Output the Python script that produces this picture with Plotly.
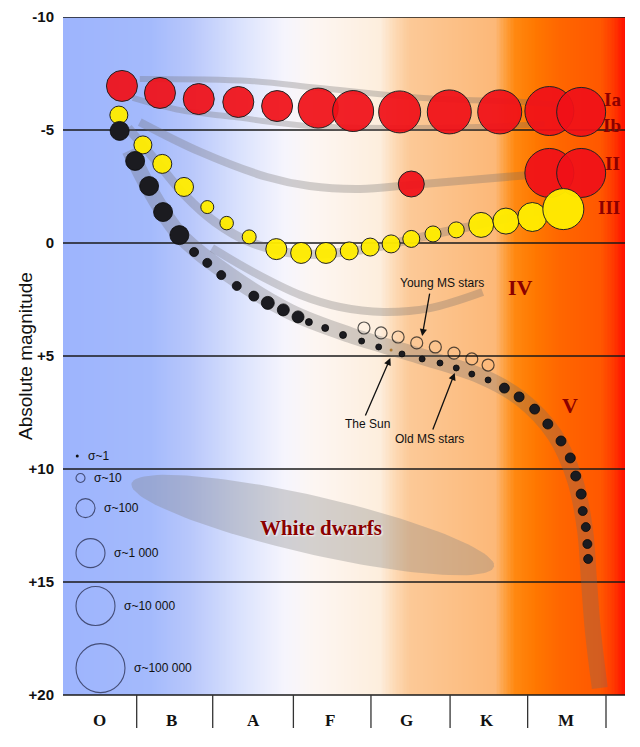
import numpy as np
import plotly.graph_objects as go

# x = spectral position (O0 = 0 ... M9 ~ 70, ten subclasses per class), y = absolute magnitude
classes = ["O", "B", "A", "F", "G", "K", "M"]
class_centers = [4.7, 14.0, 24.5, 34.4, 44.3, 54.7, 64.8]
class_edges = [9.5, 19.3, 29.7, 39.7, 49.9, 59.9, 70.0]
mag_ticks = [-10, -5, 0, 5, 10, 15, 20]
mag_labels = ["-10", "-5", "0", "+5", "+10", "+15", "+20"]

# star counts are given as log10(sigma), the legend scale
sg_x = [7.6, 12.5, 17.5, 22.6, 27.6, 32.9, 37.4, 43.4, 49.8, 56.3, 62.7, 66.8]
sg_mag = [-6.95, -6.64, -6.37, -6.24, -6.06, -5.97, -5.84, -5.80, -5.80, -5.80, -5.84, -5.80]
sg_sig = [3.2, 3.2, 3.2, 3.2, 3.2, 4.1, 4.2, 4.3, 4.5, 4.5, 5.0, 5.0]

bg_x = [44.9, 62.7, 66.8]
bg_mag = [-2.61, -3.10, -3.10]
bg_sig = [2.7, 5.0, 5.0]

gi_x = [7.2, 10.3, 12.8, 15.6, 18.6, 21.1, 24.0, 27.5, 30.7, 33.9, 36.9, 39.6, 42.3, 44.9,
        47.7, 50.7, 53.9, 57.1, 60.5, 64.5]
gi_mag = [-5.66, -4.34, -3.50, -2.48, -1.59, -0.88, -0.27, 0.27, 0.44, 0.44, 0.35, 0.18, 0.04,
          -0.18, -0.40, -0.58, -0.80, -0.97, -1.15, -1.50]
gi_sig = [1.9, 1.9, 2.0, 2.0, 1.4, 1.45, 1.5, 2.2, 2.2, 2.2, 1.9, 1.9, 1.9, 1.8, 1.7, 1.7,
          2.6, 2.7, 3.0, 4.2]

ms_x = [7.3, 9.3, 11.1, 12.9, 15.0, 16.9, 18.6, 20.4, 22.4, 24.6, 26.4, 28.4, 30.3, 31.7,
        33.8, 36.1, 38.5, 40.7, 43.7, 46.3, 48.6, 50.7, 52.7, 54.8, 56.9, 58.8, 60.8, 62.5,
        64.2, 65.4, 66.1, 66.8, 67.0, 67.4, 67.6, 67.7]
ms_mag = [-4.96, -3.63, -2.52, -1.37, -0.35, 0.40, 0.88, 1.42, 1.90, 2.35, 2.65, 2.96, 3.27,
          3.50, 3.76, 4.07, 4.34, 4.60, 4.91, 5.13, 5.31, 5.53, 5.80, 6.06, 6.42, 6.81, 7.35,
          8.01, 8.76, 9.51, 10.31, 11.11, 11.86, 12.57, 13.32, 13.98]
ms_sig = [2.0, 2.0, 2.0, 2.0, 2.0, 1.0, 1.0, 1.0, 1.0, 1.1, 1.4, 1.3, 1.3, 0.8, 0.8, 0.8,
          0.7, 0.7, 0.7, 0.7, 0.7, 0.7, 0.7, 0.7, 1.1, 1.1, 1.1, 1.1, 1.1, 1.1, 1.1, 1.1,
          1.0, 1.0, 1.0, 1.0]

young_x = [38.8, 41.0, 43.2, 45.6, 48.0, 50.4, 52.7, 54.8]
young_mag = [3.76, 3.98, 4.16, 4.42, 4.60, 4.87, 5.13, 5.40]
young_sig = [1.3] * 8

sun_x, sun_mag = 42.3, 4.73

# luminosity class tracks
bands = {
    "Ia": ([9.9, 24.1, 33.1, 46.4, 59.3, 64.1], [-7.26, -7.17, -6.86, -6.42, -6.24, -6.11]),
    "Ib": ([9.0, 15.1, 21.9, 31.8, 45.1, 53.4, 62.1], [-6.42, -5.88, -5.58, -5.18, -5.09, -5.13, -5.27]),
    "II": ([9.9, 17.7, 26.3, 31.8, 38.3, 44.9, 52.5, 60.2], [-5.35, -4.03, -2.92, -2.52, -2.39, -2.57, -2.79, -3.01]),
    "III": ([8.4, 11.9, 15.7, 19.6, 24.1, 30.6, 38.3, 47.3, 56.3, 64.1],
            [-5.09, -3.67, -2.12, -0.93, -0.04, 0.49, 0.31, -0.35, -1.02, -1.68]),
    "IV": ([19.2, 24.5, 30.6, 35.7, 41.3, 47.3, 54.1], [0.22, 1.28, 2.30, 2.83, 3.05, 2.88, 2.17]),
    "V": ([8.6, 11.2, 15.1, 21.5, 29.3, 37.0, 46.0, 53.8, 58.9, 63.4, 66.0, 67.3, 67.8, 68.3, 69.2],
          [-4.1, -2.35, -0.35, 1.42, 3.05, 4.07, 5.0, 5.88, 6.86, 8.50, 10.49, 12.70, 14.91, 17.12, 19.69]),
}
band_width = {"Ia": 6, "Ib": 6, "II": 8, "III": 9, "IV": 8, "V": 16}

class_labels = ["Ia", "Ib", "II", "III", "IV", "V"]
class_label_x = [70.8, 70.8, 70.9, 70.4, 59.0, 65.4]
class_label_mag = [-6.37, -5.18, -3.54, -1.55, 1.99, 7.17]
class_label_size = [19, 19, 19, 19, 22, 22]

legend_sig = [0, 1, 2, 3, 4, 5]
legend_text = ["σ~1", "σ~10", "σ~100", "σ~1 000", "σ~10 000", "σ~100 000"]
legend_mag = [9.42, 10.40, 11.73, 13.72, 16.06, 18.81]

wd_x, wd_mag = 32.2, 12.48

X_MAX = 72.45
Y_BOTTOM = 21.46
PX_X = 562 / X_MAX
PX_Y = 711 / (Y_BOTTOM + 10)


def sizes(sig):
    return [max(2.5, 10 * s - 1) for s in sig]


bg_scale = [
    [0.000, "#9db4fd"], [0.155, "#a4bafc"], [0.226, "#b8c7fb"], [0.315, "#dae2fd"],
    [0.395, "#f6f5fd"], [0.448, "#fdf6f2"], [0.564, "#fdeedd"], [0.591, "#fdd9b4"],
    [0.617, "#fcc997"], [0.769, "#fcb878"], [0.786, "#fda040"], [0.804, "#ff8810"],
    [0.840, "#ff7800"], [0.884, "#ff6600"], [0.956, "#ff5800"], [0.979, "#ff3a00"],
    [1.000, "#ff1000"],
]

fig = go.Figure()

grad_x = np.linspace(0, X_MAX, 401)
fig.add_trace(go.Heatmap(
    x=grad_x, y=[-10, 20], z=[(grad_x[:-1] + grad_x[1:]) / 2],
    colorscale=bg_scale, zmin=0, zmax=X_MAX, showscale=False, hoverinfo="skip",
))

# horizontal magnitude lines
hx, hy = [], []
for m in mag_ticks:
    hx += [0, X_MAX, None]
    hy += [m, m, None]
fig.add_trace(go.Scatter(x=hx, y=hy, mode="lines", line=dict(color="#1a1a1a", width=1.5),
                         hoverinfo="skip", showlegend=False))

for name, (bx, by) in bands.items():
    fig.add_trace(go.Scatter(
        x=bx, y=by, mode="lines", line=dict(color="rgba(110,105,105,0.30)", width=band_width[name],
                                            shape="spline", smoothing=1.0),
        hoverinfo="skip", showlegend=False,
    ))

# white dwarf region
t = np.linspace(0, 2 * np.pi, 120)
a, b, ang = 186, 29, np.radians(12.9)
ex = wd_x + (a * np.cos(t) * np.cos(ang) - b * np.sin(t) * np.sin(ang)) / PX_X
ey = wd_mag + (a * np.cos(t) * np.sin(ang) + b * np.sin(t) * np.cos(ang)) / PX_Y
fig.add_trace(go.Scatter(x=ex, y=ey, mode="lines", fill="toself",
                         fillcolor="rgba(128,128,128,0.32)", line=dict(width=0),
                         hoverinfo="skip", showlegend=False))

# legend of symbol sizes
leg_size = sizes(legend_sig)
leg_x = [(13 + s / 2) / PX_X for s in leg_size]
fig.add_trace(go.Scatter(
    x=leg_x[1:], y=legend_mag[1:], mode="markers",
    marker=dict(size=leg_size[1:], color="rgba(0,0,0,0)", line=dict(color="#1e2240", width=1.1)),
    hoverinfo="skip", showlegend=False,
))
fig.add_trace(go.Scatter(x=leg_x[:1], y=legend_mag[:1], mode="markers",
                         marker=dict(size=3, color="#111"), hoverinfo="skip", showlegend=False))
for lx, lm, s, txt in zip(leg_x, legend_mag, leg_size, legend_text):
    fig.add_annotation(x=lx, y=lm, text=txt, showarrow=False, xanchor="left",
                       xshift=s / 2 + 7, font=dict(family="Arial", size=12, color="#111"))

outline = dict(color="#222", width=1)
red = "rgba(240,16,24,0.93)"
fig.add_trace(go.Scatter(x=sg_x, y=sg_mag, mode="markers",
                         marker=dict(size=sizes(sg_sig), color=red, line=outline, opacity=1),
                         showlegend=False, hoverinfo="skip"))
fig.add_trace(go.Scatter(x=bg_x, y=bg_mag, mode="markers",
                         marker=dict(size=sizes(bg_sig), color=red, line=outline, opacity=1),
                         showlegend=False, hoverinfo="skip"))
fig.add_trace(go.Scatter(x=gi_x, y=gi_mag, mode="markers",
                         marker=dict(size=sizes(gi_sig), color="rgba(255,236,0,0.96)", line=outline,
                                     opacity=1),
                         showlegend=False, hoverinfo="skip"))
fig.add_trace(go.Scatter(x=ms_x, y=ms_mag, mode="markers",
                         marker=dict(size=sizes(ms_sig), color="#1b1b20", opacity=1,
                                     line=dict(color="#0a0a0a", width=0.8)),
                         showlegend=False, hoverinfo="skip"))
fig.add_trace(go.Scatter(x=young_x, y=young_mag, mode="markers",
                         marker=dict(size=sizes(young_sig), color="rgba(0,0,0,0)",
                                     line=dict(color="#111", width=1.2)),
                         showlegend=False, hoverinfo="skip"))
fig.add_trace(go.Scatter(x=[sun_x], y=[sun_mag], mode="markers",
                         marker=dict(size=3, color="#b07a30"), showlegend=False, hoverinfo="skip"))

# spectral class strip
for e in class_edges:
    fig.add_shape(type="line", x0=e, x1=e, y0=20, y1=Y_BOTTOM, line=dict(color="#333", width=1.3))
for c, cx in zip(classes, class_centers):
    fig.add_annotation(x=cx, y=21.15, text=c, showarrow=False,
                       font=dict(family="Times New Roman, Liberation Serif", size=17,
                                 color="#111", weight="bold"))

for lab, lx, lm, fs in zip(class_labels, class_label_x, class_label_mag, class_label_size):
    fig.add_annotation(x=lx, y=lm, text=lab, showarrow=False,
                       font=dict(family="Times New Roman, Liberation Serif", size=fs,
                                 color="#8b0000", weight="bold"))

fig.add_annotation(x=wd_x + 1.1, y=wd_mag + 0.13, text="White dwarfs", showarrow=False,
                   font=dict(family="Times New Roman, Liberation Serif", size=21,
                             color="#8b0000", weight="bold", shadow="1px 1px 2px white"))

# pointers
notes = [
    ("Young MS stars", 48.9, 1.77, 47.3, 2.17, 46.3, 4.12),
    ("The Sun", 39.2, 8.0, 38.9, 7.70, 42.2, 5.09),
    ("Old MS stars", 47.3, 8.67, 47.6, 8.32, 50.5, 5.75),
]
for txt, tx, tm, ax0, ay0, x1, y1 in notes:
    fig.add_annotation(x=tx, y=tm, text=txt, showarrow=False,
                       font=dict(family="Arial", size=12, color="#111"))
    fig.add_annotation(x=x1, y=y1, ax=ax0, ay=ay0, axref="x", ayref="y", text="",
                       showarrow=True, arrowhead=2, arrowsize=1.1, arrowwidth=1.3,
                       arrowcolor="#111")

fig.add_annotation(xref="paper", x=-0.0676, xanchor="center", y=5, text="Absolute magnitude",
                   textangle=-90, showarrow=False,
                   font=dict(family="Arial", size=19, color="#111"))

fig.update_xaxes(range=[0, X_MAX], visible=False, automargin=False)
fig.update_yaxes(range=[Y_BOTTOM, -10], tickvals=mag_ticks, ticktext=mag_labels,
                 showgrid=False, zeroline=False, showline=False, ticks="",
                 ticklabelstandoff=8, automargin=False,
                 tickfont=dict(family="Arial", size=15, color="#111", weight="bold"))
# page body adds an 8px margin, so the figure is sized to fit inside the window
fig.update_layout(width=624, height=731, margin=dict(l=55, r=7, t=9, b=11, autoexpand=False),
                  plot_bgcolor="white", paper_bgcolor="white", showlegend=False)

fig.write_html("out.html")
